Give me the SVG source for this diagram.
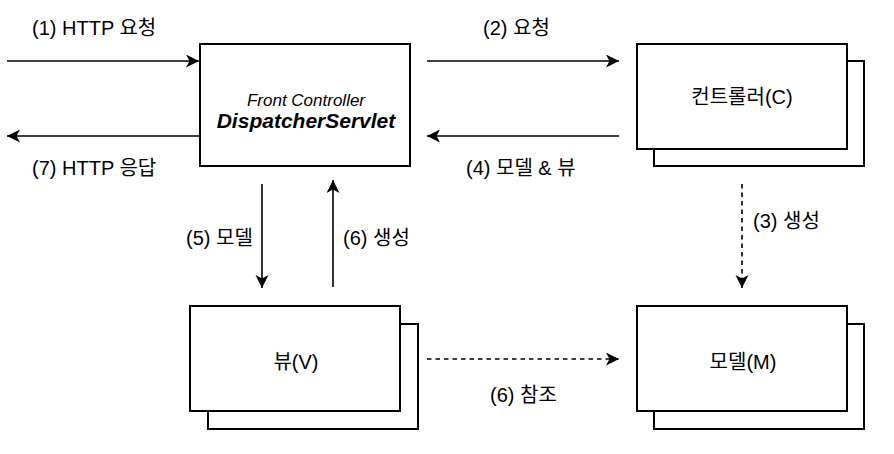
<svg xmlns="http://www.w3.org/2000/svg" width="894" height="454" viewBox="0 0 894 454">
<style>
text{font-family:"Liberation Sans","Noto Sans CJK KR",sans-serif;fill:#000;font-size:20px}
.box{fill:#fff;stroke:#000;stroke-width:2}
.node{text-anchor:middle}
.ln{fill:none;stroke:#000;stroke-width:1.6}
.dash{stroke-dasharray:4.5 4}
</style>
<defs>
<marker id="ah" markerUnits="userSpaceOnUse" markerWidth="14" markerHeight="14" refX="13" refY="6.5" orient="auto">
<path d="M0,0 L13,6.5 L0,13 L3.5,6.5 z" fill="#000"/>
</marker>
</defs>
<rect width="894" height="454" fill="#fff"/>
<g id="connectors">
<path class="ln" d="M7,61 L199,61" marker-end="url(#ah)"/>
<path class="ln" d="M199,136 L7,136" marker-end="url(#ah)"/>
<path class="ln" d="M427,61 L619,61" marker-end="url(#ah)"/>
<path class="ln" d="M619,136 L427,136" marker-end="url(#ah)"/>
<path class="ln" d="M262,184 L262,288" marker-end="url(#ah)"/>
<path class="ln" d="M333,287 L333,180" marker-end="url(#ah)"/>
<path class="ln dash" d="M742,184 L742,288" marker-end="url(#ah)"/>
<path class="ln dash" d="M427,359 L619,359" marker-end="url(#ah)"/>
<text x="32" y="35">(1) HTTP 요청</text>
<text x="32" y="175">(7) HTTP 응답</text>
<text x="483" y="35">(2) 요청</text>
<text x="466" y="175">(4) 모델 &amp; 뷰</text>
<text x="186" y="245">(5) 모델</text>
<text x="343" y="245">(6) 생성</text>
<text x="753" y="228">(3) 생성</text>
<text x="490" y="402">(6) 참조</text>
</g>
<g id="dispatcher">
<rect class="box" x="200" y="44" width="210" height="122"/>
<text class="node" x="306" y="106" style="font-size:17px;font-style:italic">Front Controller</text>
<text class="node" x="306" y="128" style="font-size:21px;font-style:italic;font-weight:bold">DispatcherServlet</text>
</g>
<g id="controller">
<rect class="box" x="654" y="61" width="210" height="105"/>
<rect class="box" x="637" y="44" width="210" height="105"/>
<text class="node" x="742" y="104">컨트롤러(C)</text>
</g>
<g id="view">
<rect class="box" x="208" y="324" width="210" height="105"/>
<rect class="box" x="190" y="306" width="210" height="105"/>
<text class="node" x="296" y="369">뷰(V)</text>
</g>
<g id="model">
<rect class="box" x="654" y="324" width="210" height="105"/>
<rect class="box" x="637" y="306" width="210" height="105"/>
<text class="node" x="743" y="369">모델(M)</text>
</g>
</svg>
